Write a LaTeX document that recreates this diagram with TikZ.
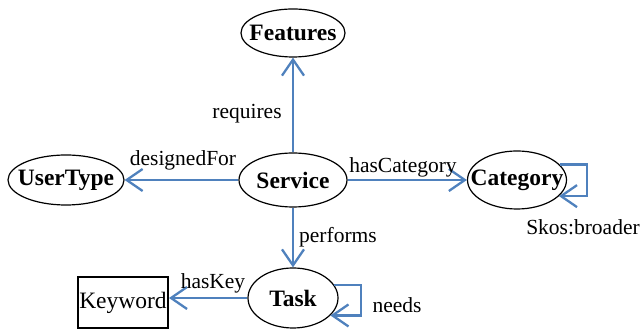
\documentclass[tikz,border=0pt]{standalone}
\usepackage{fontspec}
\setmainfont{Liberation Serif}
\usetikzlibrary{shapes.geometric,arrows.meta}
\definecolor{relblue}{RGB}{79,129,189}

\begin{document}
\begin{tikzpicture}[x=1pt,y=1pt,
  every node/.style={font=\fontsize{21.5}{24}\selectfont},
  cls/.style={ellipse,draw,line width=1.2pt,inner sep=-40pt,font=\fontsize{23.5}{26}\selectfont\bfseries},
  rel/.style={draw=relblue,line width=2.3pt,-{Straight Barb[length=16pt,width=22pt]}}]
  \useasboundingbox (0,0) rectangle (643,331);
  \node[cls,minimum width=104pt,minimum height=48pt] (features) at (293,298) {Features};
  \node[cls,minimum width=108pt,minimum height=54pt] (service) at (293,151) {Service};
  \node[cls,minimum width=116pt,minimum height=50pt] (usertype) at (66,151) {UserType};
  \node[cls,minimum width=99pt,minimum height=58pt] (category) at (517,151) {Category};
  \node[cls,minimum width=90pt,minimum height=60pt] (task) at (293,33) {Task};
  \node[draw,line width=2pt,minimum width=90pt,minimum height=51pt,inner sep=0pt,
    font=\fontsize{23.5}{26}\selectfont] (keyword) at (123,28) {Keyword};
  \draw[rel] (service) -- (features);
  \draw[rel] (service) -- (usertype);
  \draw[rel] (service) -- (category);
  \draw[rel] (service) -- (task);
  \draw[rel] (task.west) -- (keyword.east |- task.west);
  \draw[rel] (task.18) -- ++(27,0) |- (task.-25);
  \draw[rel] (category.20) -- ++(27,0) |- (category.-21);
  \node (requires) at (247,217) {requires};
  \node (designedfor) at (183,171) {designedFor};
  \node (hascategory) at (403,164) {hasCategory};
  \node (performs) at (338,94) {performs};
  \node (haskey) at (213,48) {hasKey};
  \node (needs) at (397,26) {needs};
  \node (broader) at (583,104) {Skos:broader};
\end{tikzpicture}
\end{document}
